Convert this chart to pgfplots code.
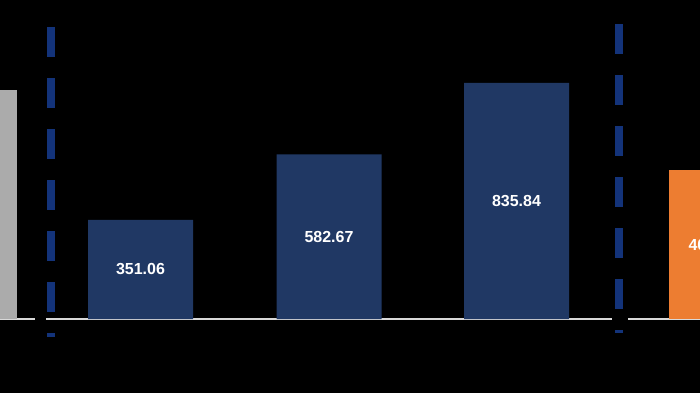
\documentclass[border=0pt]{standalone}
\usepackage{fontspec}
\setmainfont{Liberation Sans}
\usepackage{pgfplots}
\pgfplotsset{compat=1.18}
\definecolor{navybar}{HTML}{203864}
\definecolor{graybar}{HTML}{ABABAB}
\definecolor{orangebar}{HTML}{ED7D31}
\definecolor{dashblue}{HTML}{13337A}
\definecolor{baseline}{HTML}{D9D9D9}
\begin{document}
\begin{tikzpicture}[x=1pt,y=1pt]
\fill[black] (0,0) rectangle (700,393);
\begin{axis}[
  at={(0,0)}, anchor=south west,
  scale only axis, width=800pt, height=393pt,
  xmin=0, xmax=800, ymin=-262.0, ymax=1129.6,
  hide axis, clip=true,
  barlbl/.style={
    nodes near coords, point meta=explicit symbolic,
    visualization depends on={rawy/2 \as \halfy},
    every node near coord/.append style={anchor=center, text=white,
      font=\bfseries\fontsize{16}{19}\selectfont,
      shift={(axis direction cs:0,-\halfy)}}
  }
]
% baseline
\addplot[draw=baseline, line width=2pt, mark=none] coordinates {(0,0) (35,0)};
\addplot[draw=baseline, line width=2pt, mark=none] coordinates {(46,0) (612,0)};
\addplot[draw=baseline, line width=2pt, mark=none] coordinates {(628,0) (800,0)};
% gray bar (cut off at the left)
\addplot[ybar, bar width=105, bar shift=0pt, fill=graybar, draw=none] coordinates {(-35.5,810.9)};
% navy bars
\addplot[ybar, bar width=105, bar shift=0pt, fill=navybar, draw=none, barlbl]
  coordinates {(140.5,351.06) [351.06] (329,582.67) [582.67] (516.5,835.84) [835.84]};
% orange bar (cut off at the right)
\addplot[ybar, bar width=88, bar shift=0pt, fill=orangebar, draw=none, barlbl]
  coordinates {(713,527.6) [403.00]};
% dashed separators
\addplot[draw=dashblue, line width=8pt, mark=none, dash pattern=on 30pt off 21pt]
  coordinates {(51,1034) (51,-63.7)};
\addplot[draw=dashblue, line width=8pt, mark=none, dash pattern=on 30pt off 21pt]
  coordinates {(619,1044.6) (619,-49.6)};
\end{axis}
\pgfresetboundingbox
\path[use as bounding box] (0,0) rectangle (700,393);
\end{tikzpicture}
\end{document}
